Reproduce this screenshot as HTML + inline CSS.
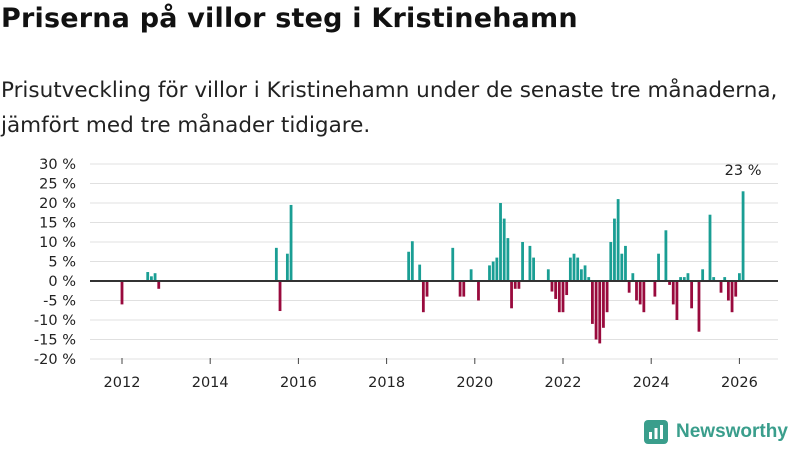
<!DOCTYPE html>
<html><head><meta charset="utf-8"><style>
body{margin:0;width:800px;height:450px;background:#fff;font-family:"DejaVu Sans","Liberation Sans",sans-serif;overflow:hidden;position:relative}
h1{position:absolute;left:1px;top:3px;margin:0;font-size:27px;font-weight:bold;color:#111;letter-spacing:0.2px;white-space:nowrap}
p{position:absolute;left:1px;top:73px;margin:0;font-size:21.5px;line-height:35px;color:#222;white-space:nowrap}
svg{position:absolute;left:0;top:0}
</style></head><body>
<h1>Priserna på villor steg i Kristinehamn</h1>
<p>Prisutveckling för villor i Kristinehamn under de senaste tre månaderna,<br>jämfört med tre månader tidigare.</p>
<svg id="c" width="800" height="450" style="font-family:'DejaVu Sans',sans-serif"></svg>
<script>
const months=[0,7,8,9,10,42,43,45,46,78,79,81,82,83,90,92,93,95,97,100,101,102,103,104,105,106,107,108,109,111,112,116,117,118,119,120,121,122,123,124,125,126,127,128,129,130,131,132,133,134,135,136,137,138,139,140,141,142,145,146,148,149,150,151,152,153,154,155,157,158,160,161,163,164,165,166,167,168,169];
const values=[-6,2.3,1.2,2,-2,8.5,-7.7,7,19.5,7.5,10.2,4.2,-8,-4,8.5,-4,-4,3,-5,4,5,6,20,16,11,-7,-2,-2,10,9,6,3,-2.7,-4.6,-8,-8,-3.6,6,7,6,3,4,1,-11,-15,-16,-12,-8,10,16,21,7,9,-3,2,-5,-6,-8,-4,7,13,-1,-6,-10,1,1,2,-7,-13,3,17,1,-3,1,-5,-8,-4,2,23];
const yTicks=[30,25,20,15,10,5,0,-5,-10,-15,-20];
const xTicks=[2012,2014,2016,2018,2020,2022,2024,2026];
const svg=document.getElementById('c');const NS='http://www.w3.org/2000/svg';
const X=m=>122+m*3.675;const Y=v=>281-v*3.9;
function mk(t,a,txt){const e=document.createElementNS(NS,t);for(const k in a)e.setAttribute(k,a[k]);if(txt!=null)e.textContent=txt;svg.appendChild(e);return e;}
yTicks.forEach(v=>{
const g=mk('line',{x1:90,x2:778,y1:Y(v),y2:Y(v),stroke:'#e0e0e0','stroke-width':1});


const t=mk('text',{x:76,y:Y(v)+5,'text-anchor':'end','font-size':14.5,fill:'#222'},v+' %');


});
xTicks.forEach(y=>{const x=X((y-2012)*12);
const l=mk('line',{x1:x,x2:x,y1:358,y2:364,stroke:'#444','stroke-width':1});


const t=mk('text',{x:x,y:387,'text-anchor':'middle','font-size':14.5,fill:'#222'},y);


});
months.forEach((m,i)=>{const v=values[i];
const r=mk('rect',{x:X(m)-1.4,width:2.8,y:Math.min(Y(v),Y(0)),height:Math.abs(Y(v)-Y(0)),fill:v>=0?'#1a9e94':'#990a3d'});


});
const z=mk('line',{x1:90,x2:778,y1:Y(0),y2:Y(0),stroke:'#333','stroke-width':2});


const li=values.length-1;
const lab=mk('text',{x:X(months[li]),y:175,'text-anchor':'middle','font-size':14.5,fill:'#222'},values[li]+' %');


</script>
<div style="position:absolute;left:644px;top:420px;display:flex;align-items:center">
<svg width="24" height="24" style="position:static"><rect x="0" y="0" width="24" height="24" rx="4" fill="#3a9e8c"/><rect x="5" y="12" width="3" height="7" fill="#fff"/><rect x="10.5" y="8" width="3" height="11" fill="#fff"/><rect x="16" y="5" width="3" height="14" fill="#fff"/></svg>
<span style="font-size:19px;font-weight:bold;color:#3a9e8c;margin-left:8px;font-family:'Liberation Sans',sans-serif">Newsworthy</span></div>
</body></html>
